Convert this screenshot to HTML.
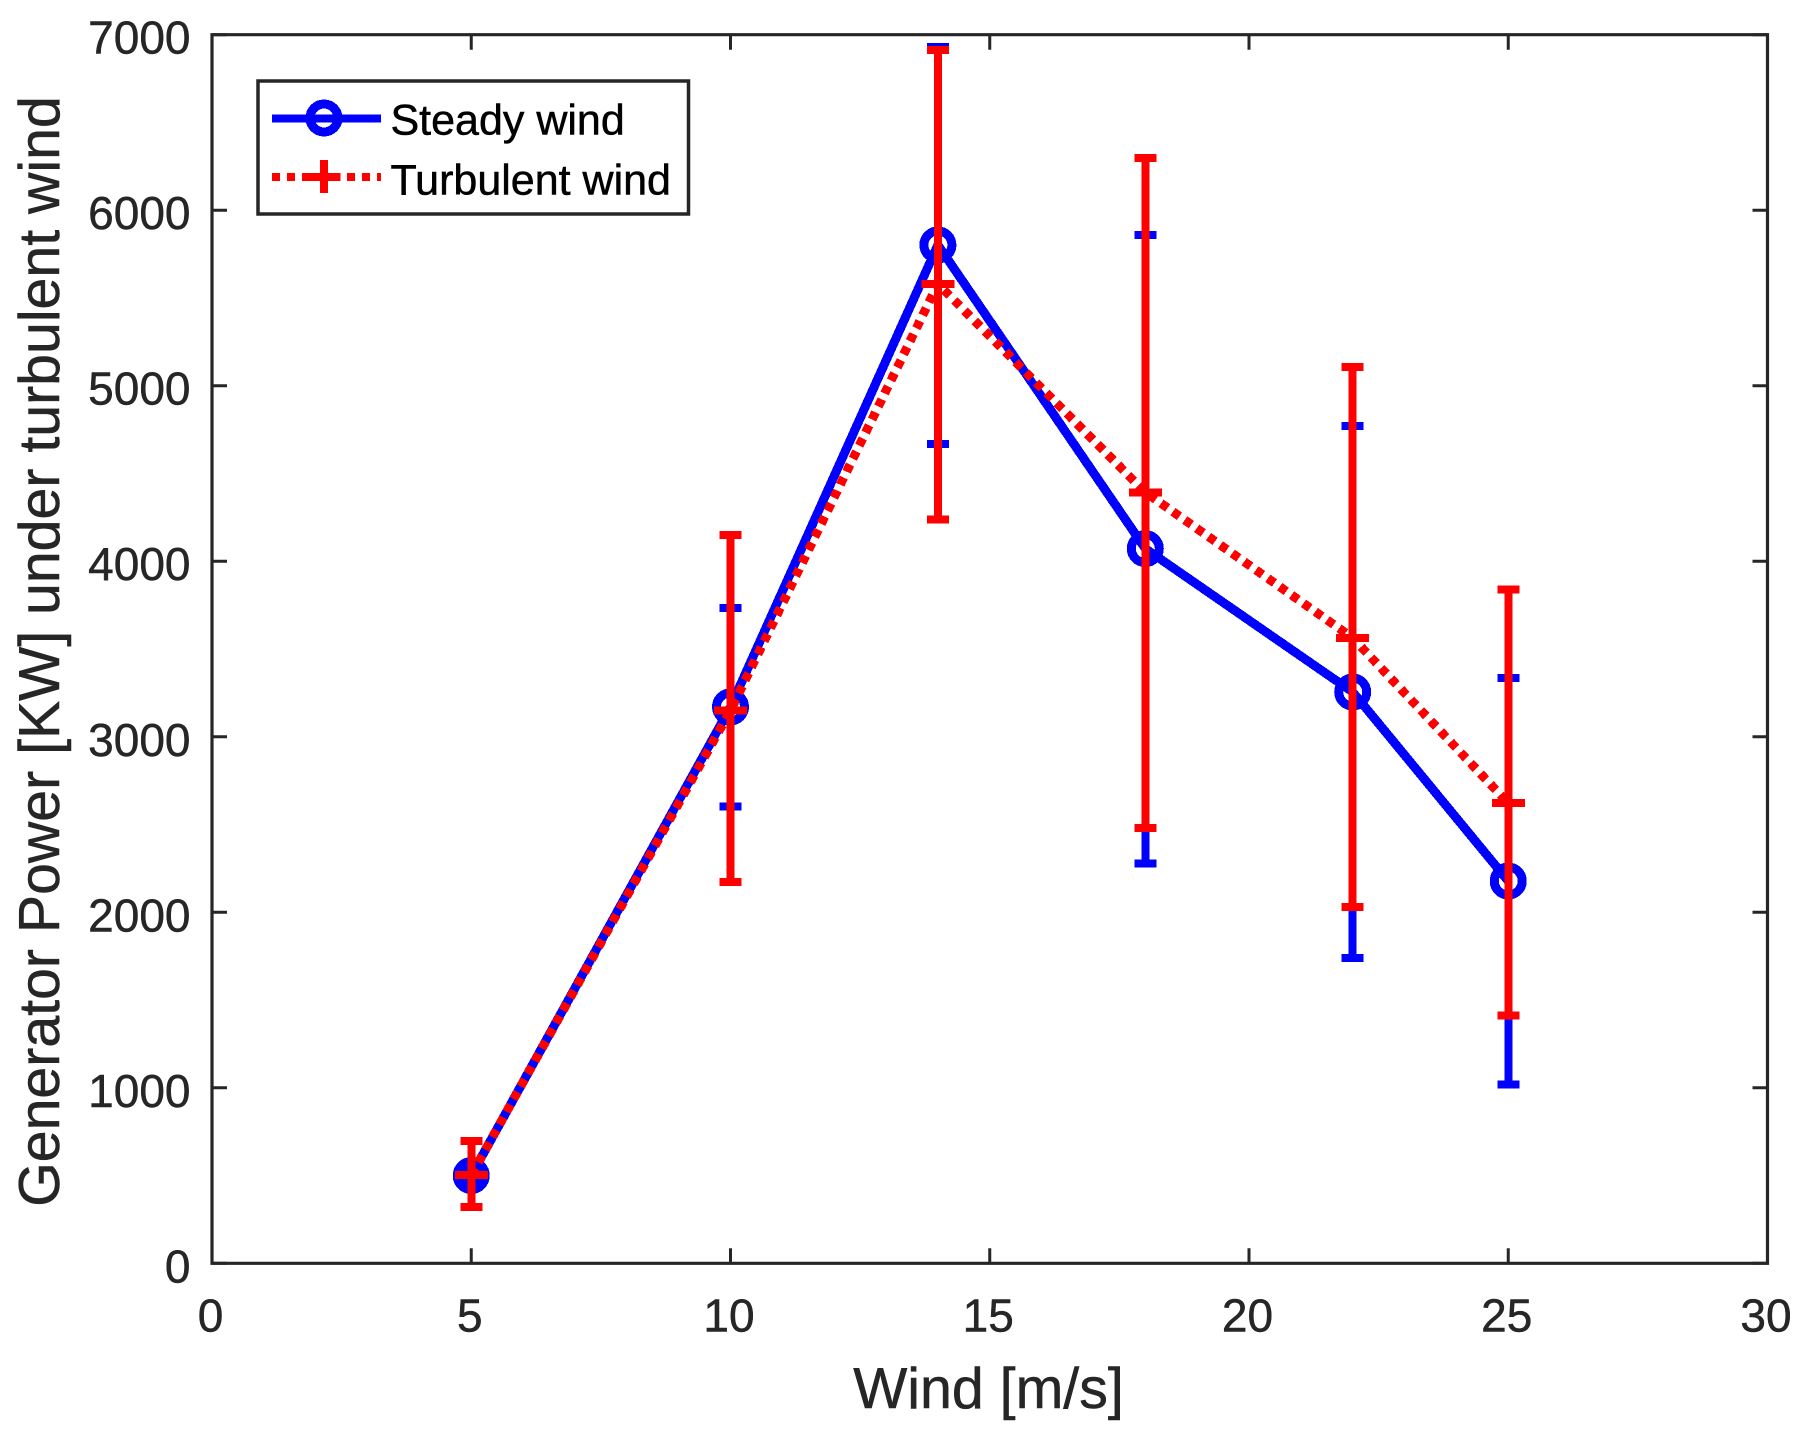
<!DOCTYPE html>
<html lang="en">
<head>
<meta charset="utf-8">
<title>Generator Power under turbulent wind</title>
<style>
html,body{margin:0;padding:0;background:#fff;width:1803px;height:1433px;overflow:hidden}
svg{display:block}
text{font-family:"Liberation Sans",sans-serif}
</style>
</head>
<body>
<svg id="chart" xmlns="http://www.w3.org/2000/svg" width="1803" height="1433" viewBox="0 0 1803 1433">
  <rect width="1803" height="1433" fill="#fff"/>
  <g id="marks" shape-rendering="crispEdges"></g>
  <g id="axes"></g>
  <text x="988.5" y="1408" font-size="57.3" fill="#262626" stroke="#262626" stroke-width="0.5" text-anchor="middle">Wind [m/s]</text>
  <text transform="translate(59 651.5) rotate(-90)" font-size="57.25" fill="#262626" stroke="#262626" stroke-width="0.5" text-anchor="middle">Generator Power [KW] under turbulent wind</text>
  <g>
    <rect x="258" y="81" width="430.5" height="133" fill="#fff" stroke="#262626" stroke-width="3.5"/>
    <g shape-rendering="crispEdges">
      <line x1="272" y1="118.5" x2="381" y2="118.5" stroke="#0000ff" stroke-width="8"/>
      <circle cx="324" cy="118" r="14" fill="none" stroke="#0000ff" stroke-width="9"/>
      <text x="390.5" y="134.5" font-size="43" fill="#000" stroke="#000" stroke-width="0.5">Steady wind</text>
    </g>
    <g shape-rendering="crispEdges">
      <line x1="272" y1="177" x2="381" y2="177" stroke="#ff0000" stroke-width="8" stroke-dasharray="8 7"/>
      <path d="M307.5 177H340.5M324 160V193" fill="none" stroke="#ff0000" stroke-width="8"/>
      <text x="390.5" y="194.5" font-size="43" fill="#000" stroke="#000" stroke-width="0.5">Turbulent wind</text>
    </g>
  </g>
</svg>
<script>
const windSpeeds = [5, 10, 14, 18, 22, 25];
const steadyPower = [500, 3170, 5802, 4072, 3255, 2178];
const steadyLower = [460, 2603, 4668, 2277, 1739, 1018];
const steadyUpper = [540, 3733, 6931, 5859, 4770, 3335];
const turbulentPower = [503, 3150, 5580, 4393, 3563, 2622];
const turbulentLower = [320, 2172, 4237, 2480, 2030, 1411];
const turbulentUpper = [697, 4150, 6913, 6297, 5108, 3838];
const xTicks = [0, 5, 10, 15, 20, 25, 30];
const yTicks = [0, 1000, 2000, 3000, 4000, 5000, 6000, 7000];

const plotLeft = 212, plotRight = 1767.5, plotTop = 34.7, plotBottom = 1263.3;
const xMax = 30, yMax = 7000;
const xScale = v => plotLeft + (v / xMax) * (plotRight - plotLeft);
const yScale = v => plotBottom - (v / yMax) * (plotBottom - plotTop);

const NS = 'http://www.w3.org/2000/svg';
const marks = document.getElementById('marks');
const axes = document.getElementById('axes');

function make(parent, tag, attrs) {
  const node = document.createElementNS(NS, tag);
  for (const k in attrs) node.setAttribute(k, attrs[k]);
  parent.appendChild(node);
  return node;
}

function drawSeries(prefix, color, dash, values, lower, upper, markerKind) {
  const pts = windSpeeds.map((w, i) => xScale(w) + ',' + yScale(values[i])).join(' ');
  const line = make(marks, 'polyline', {points: pts, fill: 'none', stroke: color, 'stroke-width': 9});
  if (dash) line.setAttribute('stroke-dasharray', dash);
  
  

  windSpeeds.forEach((w, i) => {
    const x = xScale(w), y = yScale(values[i]), lo = yScale(lower[i]), hi = yScale(upper[i]);
    let marker;
    if (markerKind === 'circle') {
      marker = make(marks, 'circle', {cx: x, cy: y, r: 14, fill: 'none', stroke: color, 'stroke-width': 9});
    } else {
      marker = make(marks, 'path', {d: `M${x - 16.5} ${y}H${x + 16.5}M${x} ${y - 16.5}V${y + 16.5}`, fill: 'none', stroke: color, 'stroke-width': 8});
    }
    
    

    const err = make(marks, 'path', {d: `M${x} ${lo}V${hi}M${x - 11} ${lo}H${x + 11}M${x - 11} ${hi}H${x + 11}`, fill: 'none', stroke: color, 'stroke-width': 8});
    
    
  });
}

drawSeries('steady', '#0000ff', null, steadyPower, steadyLower, steadyUpper, 'circle');
drawSeries('turbulent', '#ff0000', '8 6.5', turbulentPower, turbulentLower, turbulentUpper, 'plus');

const axisColor = '#262626';
const frame = make(axes, 'path', {d: `M${plotLeft} ${plotTop}H${plotRight}V${plotBottom}H${plotLeft}Z`, fill: 'none', stroke: axisColor, 'stroke-width': 3.2});



xTicks.forEach(t => {
  const x = xScale(t);
  const tick = make(axes, 'path', {d: `M${x} ${plotBottom}V${plotBottom - 15}M${x} ${plotTop}V${plotTop + 15}`, fill: 'none', stroke: axisColor, 'stroke-width': 3});
  
  
  const label = make(axes, 'text', {x: x - 1.5, y: 1331.5, 'font-size': 46, fill: axisColor, stroke: axisColor, 'stroke-width': 0.5, 'text-anchor': 'middle'});
  label.textContent = String(t);
  
  
});

yTicks.forEach(t => {
  const y = yScale(t);
  const tick = make(axes, 'path', {d: `M${plotLeft} ${y}H${plotLeft + 15}M${plotRight} ${y}H${plotRight - 15}`, fill: 'none', stroke: axisColor, 'stroke-width': 3});
  
  
  const label = make(axes, 'text', {x: 190.5, y: y + 19, 'font-size': 46, fill: axisColor, stroke: axisColor, 'stroke-width': 0.5, 'text-anchor': 'end'});
  label.textContent = String(t);
  
  
});
</script>
</body>
</html>
